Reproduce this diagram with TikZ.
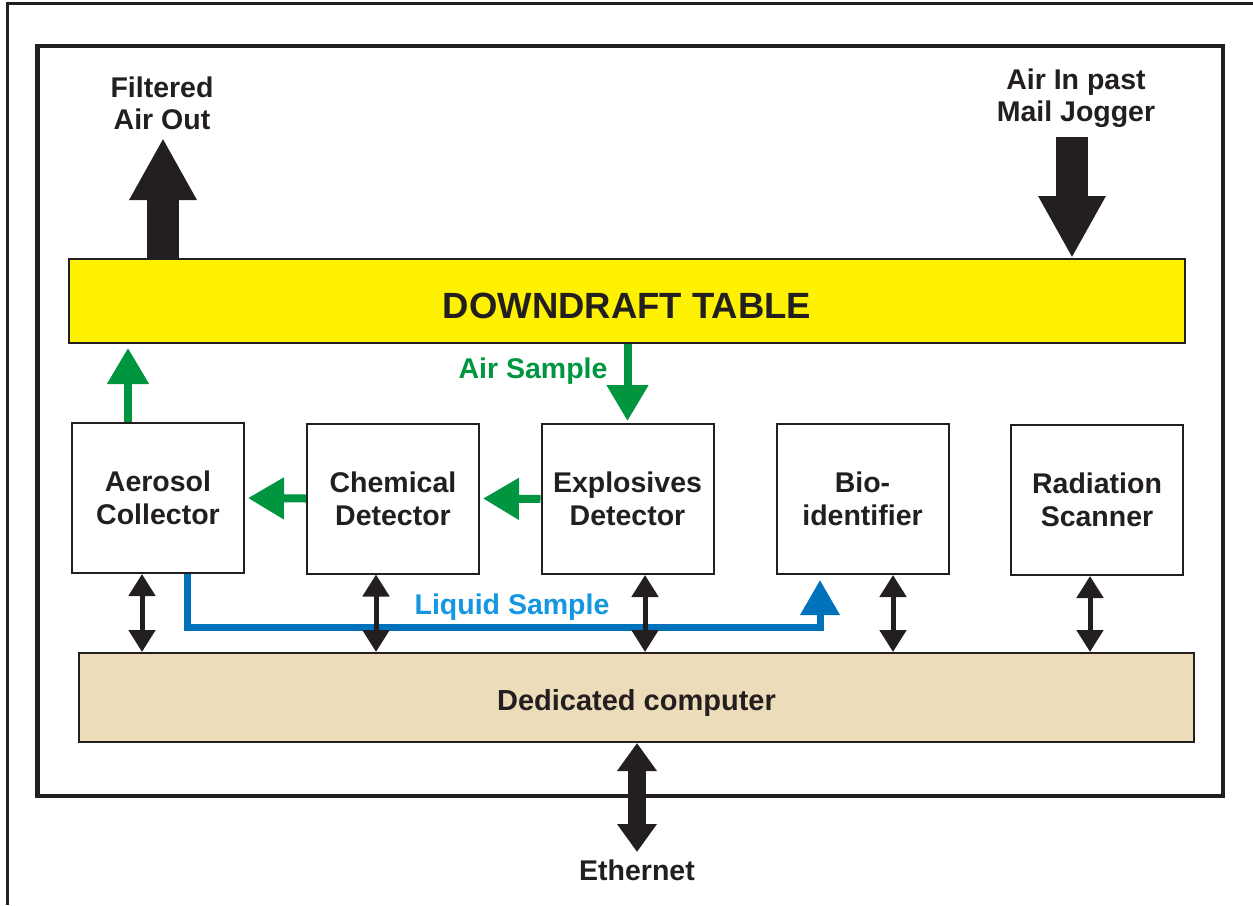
\documentclass[tikz,border=0pt]{standalone}
\usepackage{fontspec}
\setmainfont{Liberation Sans}
\usetikzlibrary{arrows.meta}

\definecolor{ink}{RGB}{35,31,32}
\definecolor{tableyellow}{RGB}{255,242,0}
\definecolor{pctan}{RGB}{237,220,185}
\definecolor{airgreen}{RGB}{0,150,64}
\definecolor{liquidblue}{RGB}{0,114,188}
\definecolor{liquidtext}{RGB}{20,150,225}

\begin{document}
\begin{tikzpicture}[x=1pt,y=-1pt,
    unit/.style={draw=ink,line width=2pt,minimum width=172pt,minimum height=150pt,
      align=center,text=ink,font=\fontsize{28.5}{33}\selectfont\bfseries},
    tag/.style={align=center,text=ink,font=\fontsize{28.5}{32}\selectfont\bfseries},
    airflow/.style={draw=airgreen,line width=8pt,-{Triangle[width=40pt,length=36pt]}},
    liquid/.style={draw=liquidblue,line width=7pt,miter limit=4,
      -{Triangle[width=38pt,length=35pt]}},
    link/.style={draw=ink,line width=5pt,
      {Triangle[width=26pt,length=22pt]}-{Triangle[width=26pt,length=22pt]}},
    bigflow/.style={draw=ink,line width=32pt,-{Triangle[width=63pt,length=62pt]}},
    netflow/.style={draw=ink,line width=18pt,
      {Triangle[width=38pt,length=28pt]}-{Triangle[width=38pt,length=28pt]}}]
  \useasboundingbox (0,0) rectangle (1253,905);

  % frames
  \draw[ink,line width=3pt] (7,905) -- (7,3) -- (1253,3);
  \draw[ink,line width=4.5pt] (37.5,46) rectangle (1223,796);

  % table and computer
  \node[draw=ink,fill=tableyellow,line width=2pt,minimum width=1116pt,minimum height=84pt,
    text height=35pt,text depth=0pt,
    text=ink,font=\fontsize{36.5}{40}\selectfont\bfseries] (table) at (627,301) {DOWNDRAFT TABLE};
  \node[draw=ink,fill=pctan,line width=2pt,minimum width=1115pt,minimum height=89pt,
    text height=26pt,text depth=0pt,
    text=ink,font=\fontsize{29}{33}\selectfont\bfseries] (pc) at (636.5,697.5) {Dedicated computer};

  % instruments
  \node[unit] (aero) at (158,498) {Aerosol\\Collector};
  \node[unit] (chem) at (393,498.5) {Chemical\\Detector};
  \node[unit] (expl) at (627.5,499) {Explosives\\Detector};
  \node[unit] (bio) at (862.5,499) {Bio-\\identifier};
  \node[unit] (rad) at (1097,500) {Radiation\\Scanner};

  % labels
  \node[tag] (filtered) at (162,103) {Filtered\\Air Out};
  \node[tag] (airin) at (1076,98) {Air In past\\Mail Jogger};
  \node[tag,text=airgreen,anchor=east] (airsample) at (611,371) {Air Sample};
  \node[tag,text=liquidtext] (liqsample) at (512,607) {Liquid Sample};
  \node[tag] (ether) at (637,870) {Ethernet};

  % big air arrows
  \coordinate (outtip) at (163,138);
  \coordinate (intail) at (1072,137);
  \draw[bigflow] (table.north -| outtip) -- (outtip);
  \draw[bigflow] (intail) -- (table.north -| intail);

  % air sample path
  \draw[airflow,shorten >=2pt] (table.south -| expl.north) -- (expl.north);
  \draw[airflow,shorten >=3pt] (expl.west) -- (chem.east);
  \draw[airflow,shorten >=3pt] (chem.west) -- (aero.east);
  \draw[airflow,shorten >=4pt] (aero.north -| 128,0) -- (table.south -| 128,0);

  % liquid sample path
  \coordinate (bend) at (820,627);
  \draw[liquid,shorten >=5pt] (aero.south -| 187,0) |- (bend) -- (bend |- bio.south);

  % links to computer
  \draw[link] (aero.south -| 142,0) -- (pc.north -| 142,0);
  \draw[link] (chem.south -| 376,0) -- (pc.north -| 376,0);
  \draw[link] (expl.south -| 645,0) -- (pc.north -| 645,0);
  \draw[link] (bio.south -| 893,0) -- (pc.north -| 893,0);
  \draw[link] (rad.south -| 1090,0) -- (pc.north -| 1090,0);

  % ethernet
  \coordinate (nettip) at (637,852);
  \draw[netflow] (pc.south -| nettip) -- (nettip);
\end{tikzpicture}
\end{document}
